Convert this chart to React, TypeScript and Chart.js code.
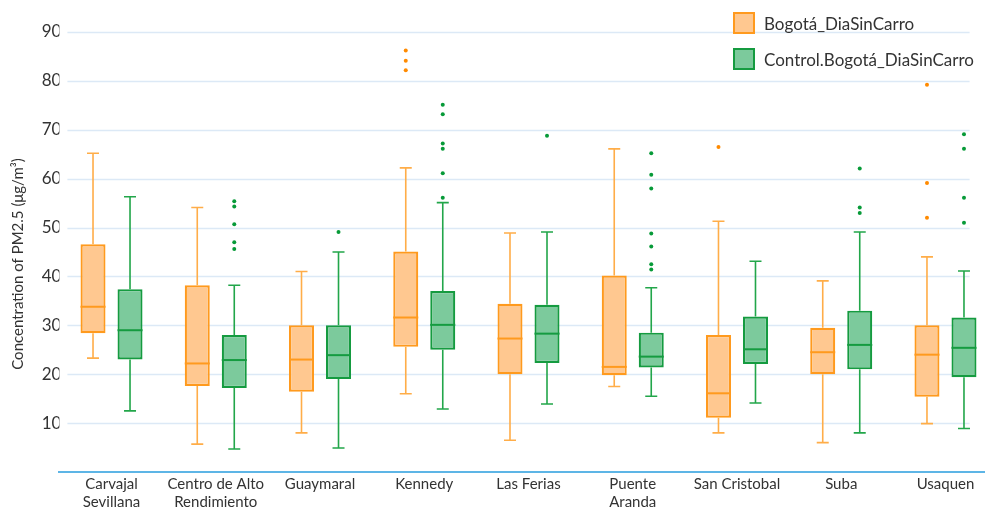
import React, { useEffect, useRef } from 'react';
import { Chart, registerables } from 'chart.js';

Chart.register(...registerables);

const categories: (string | string[])[] = [
  ['Carvajal', 'Sevillana'],
  ['Centro de Alto', 'Rendimiento'],
  'Guaymaral',
  'Kennedy',
  'Las Ferias',
  ['Puente', 'Aranda'],
  'San Cristobal',
  'Suba',
  'Usaquen',
];

const seriesNames = ['Bogotá_DiaSinCarro', 'Control.Bogotá_DiaSinCarro'];
const yTitle = 'Concentration of PM2.5 (μg/m³)';

const bogotaMin = [23.3, 5.7, 8.0, 16.0, 6.5, 17.5, 8.0, 6.0, 9.9];
const bogotaQ1 = [28.4, 17.6, 16.4, 25.6, 20.0, 19.8, 11.1, 20.0, 15.4];
const bogotaMedian = [33.8, 22.2, 23.0, 31.6, 27.3, 21.5, 16.1, 24.5, 24.0];
const bogotaQ3 = [46.6, 38.2, 30.0, 45.1, 34.4, 40.2, 28.0, 29.5, 30.0];
const bogotaMax = [65.2, 54.1, 41.0, 62.2, 48.9, 66.1, 51.3, 39.1, 44.0];
const bogotaOutliers = [[], [], [], [86.2, 84.1, 82.2], [], [], [66.5], [], [79.2, 59.1, 52.0]];

const controlMin = [12.5, 4.7, 4.9, 12.9, 13.9, 15.5, 14.1, 8.0, 8.9];
const controlQ1 = [23.0, 17.2, 19.0, 25.0, 22.3, 21.4, 22.1, 21.0, 19.4];
const controlMedian = [29.0, 22.9, 23.9, 30.1, 28.3, 23.6, 25.1, 26.0, 25.4];
const controlQ3 = [37.4, 28.0, 30.0, 37.0, 34.2, 28.5, 31.8, 33.0, 31.6];
const controlMax = [56.3, 38.2, 45.0, 55.1, 49.1, 37.7, 43.1, 49.1, 41.1];
const controlOutliers = [
  [],
  [55.4, 54.3, 50.7, 47.0, 45.6],
  [49.1],
  [75.1, 73.2, 67.2, 66.1, 61.1, 56.1],
  [68.8],
  [65.2, 60.8, 58.0, 48.8, 46.1, 42.5, 41.4],
  [],
  [62.1, 54.1, 53.0],
  [69.1, 66.1, 56.1, 51.0],
];

const yMin = 0;
const yMax = 90;
const yStep = 10;

const styles = [
  { stroke: '#FF9A1E', fill: '#FFC890', whisker: '#FFAD48', outlier: '#FF8A00' },
  { stroke: '#159B40', fill: '#7CCA9C', whisker: '#22A64A', outlier: '#079A38' },
];

const stats = [
  { min: bogotaMin, q1: bogotaQ1, med: bogotaMedian, q3: bogotaQ3, max: bogotaMax, out: bogotaOutliers },
  { min: controlMin, q1: controlQ1, med: controlMedian, q3: controlQ3, max: controlMax, out: controlOutliers },
];

const FONT = 'Lato, "Open Sans", sans-serif';
const TEXT = '#333333';

const gridPlugin = {
  id: 'customGrid',
  beforeDatasetsDraw(chart: any) {
    const { ctx, chartArea, scales } = chart;
    const y = scales.y;
    ctx.save();
    ctx.strokeStyle = '#DCE9F6';
    ctx.lineWidth = 1.5;
    y.ticks.forEach((t: any) => {
      if (t.value <= yMin) return;
      const py = Math.round(y.getPixelForValue(t.value)) + 0.5;
      ctx.beginPath();
      ctx.moveTo(chartArea.left + 8, py);
      ctx.lineTo(chartArea.right - 28, py);
      ctx.stroke();
    });
    ctx.restore();
  },
  afterDraw(chart: any) {
    const { ctx, chartArea } = chart;
    ctx.save();
    ctx.translate(18, (chartArea.top + chartArea.bottom) / 2 + 12);
    ctx.rotate(-Math.PI / 2);
    ctx.textAlign = 'center';
    ctx.textBaseline = 'middle';
    ctx.fillStyle = TEXT;
    ctx.font = `15px ${FONT}`;
    ctx.fillText(yTitle, 0, 0);
    ctx.restore();
  },
};

const boxPlugin = {
  id: 'boxDetails',
  afterDatasetsDraw(chart: any) {
    const { ctx, scales } = chart;
    const y = scales.y;
    stats.forEach((s, i) => {
      const meta = chart.getDatasetMeta(i);
      const st = styles[i];
      meta.data.forEach((bar: any, j: number) => {
        const { x, width } = bar.getProps(['x', 'width'], true);
        const cap = width * 0.48;
        const pMin = y.getPixelForValue(s.min[j]);
        const pQ1 = y.getPixelForValue(s.q1[j]);
        const pMed = y.getPixelForValue(s.med[j]);
        const pQ3 = y.getPixelForValue(s.q3[j]);
        const pMax = y.getPixelForValue(s.max[j]);
        ctx.save();
        ctx.strokeStyle = st.whisker;
        ctx.lineWidth = 1.6;
        ctx.beginPath();
        ctx.moveTo(x, pQ3);
        ctx.lineTo(x, pMax);
        ctx.moveTo(x, pQ1);
        ctx.lineTo(x, pMin);
        ctx.moveTo(x - cap / 2, pMax);
        ctx.lineTo(x + cap / 2, pMax);
        ctx.moveTo(x - cap / 2, pMin);
        ctx.lineTo(x + cap / 2, pMin);
        ctx.stroke();
        ctx.strokeStyle = st.stroke;
        ctx.lineWidth = 2;
        ctx.beginPath();
        ctx.moveTo(x - width / 2, pMed);
        ctx.lineTo(x + width / 2, pMed);
        ctx.stroke();
        ctx.fillStyle = st.outlier;
        s.out[j].forEach((v: number) => {
          ctx.beginPath();
          ctx.arc(x, y.getPixelForValue(v), 2, 0, Math.PI * 2);
          ctx.fill();
        });
        ctx.restore();
      });
    });
  },
};

export default function App() {
  const canvasRef = useRef<HTMLCanvasElement | null>(null);

  useEffect(() => {
    const canvas = canvasRef.current;
    if (!canvas) return;
    const chart = new Chart(canvas, {
      type: 'bar',
      data: {
        labels: categories as any,
        datasets: stats.map((s, i) => ({
          label: seriesNames[i],
          data: s.q1.map((q, j) => [q, s.q3[j]]) as any,
          backgroundColor: styles[i].fill,
          borderColor: styles[i].stroke,
          borderWidth: 2.2,
          borderSkipped: false,
          categoryPercentage: 0.71,
          barPercentage: 0.676,
        })),
      },
      options: {
        responsive: false,
        animation: false,
        devicePixelRatio: 1,
        layout: { padding: { left: 0, right: 2.4, top: 32, bottom: 0 } },
        plugins: {
          legend: { display: false },
          tooltip: { enabled: false },
        },
        scales: {
          x: {
            grid: { display: false, drawTicks: false },
            border: { display: true, color: '#5DB5E6', width: 2 },
            ticks: {
              color: TEXT,
              font: { family: FONT, size: 15, lineHeight: 1.2 },
              padding: 3,
              maxRotation: 0,
              autoSkip: false,
            },
            afterFit(scale: any) {
              scale.height = 37;
            },
          },
          y: {
            min: yMin,
            max: yMax,
            grid: { display: false, drawTicks: false },
            border: { display: false },
            ticks: {
              stepSize: yStep,
              color: TEXT,
              font: { family: FONT, size: 17 },
              padding: -2,
              callback: (v: any) => (v === yMin ? '' : String(v)),
            },
            afterFit(scale: any) {
              scale.width = 59.4;
            },
          },
        },
      },
      plugins: [gridPlugin, boxPlugin],
    });
    return () => chart.destroy();
  }, []);

  const legendRow = (i: number, top: number) => (
    <div
      key={i}
      style={{
        position: 'absolute',
        left: 733,
        top,
        display: 'flex',
        alignItems: 'center',
        height: 22,
      }}
    >
      <div
        style={{
          width: 18,
          height: 18,
          border: `2.5px solid ${styles[i].stroke}`,
          background: styles[i].fill,
          boxSizing: 'content-box',
        }}
      />
      <span
        style={{
          marginLeft: 9,
          fontFamily: FONT,
          fontSize: 17,
          color: TEXT,
          whiteSpace: 'nowrap',
        }}
      >
        {seriesNames[i]}
      </span>
    </div>
  );

  return (
    <div
      style={{
        position: 'absolute',
        left: 0,
        top: 0,
        width: 985,
        height: 509,
        overflow: 'hidden',
        background: '#fff',
      }}
    >
      <canvas ref={canvasRef} width={1000} height={509} style={{ width: 1000, height: 509, display: 'block' }} />
      {legendRow(0, 12)}
      {legendRow(1, 48)}
    </div>
  );
}
